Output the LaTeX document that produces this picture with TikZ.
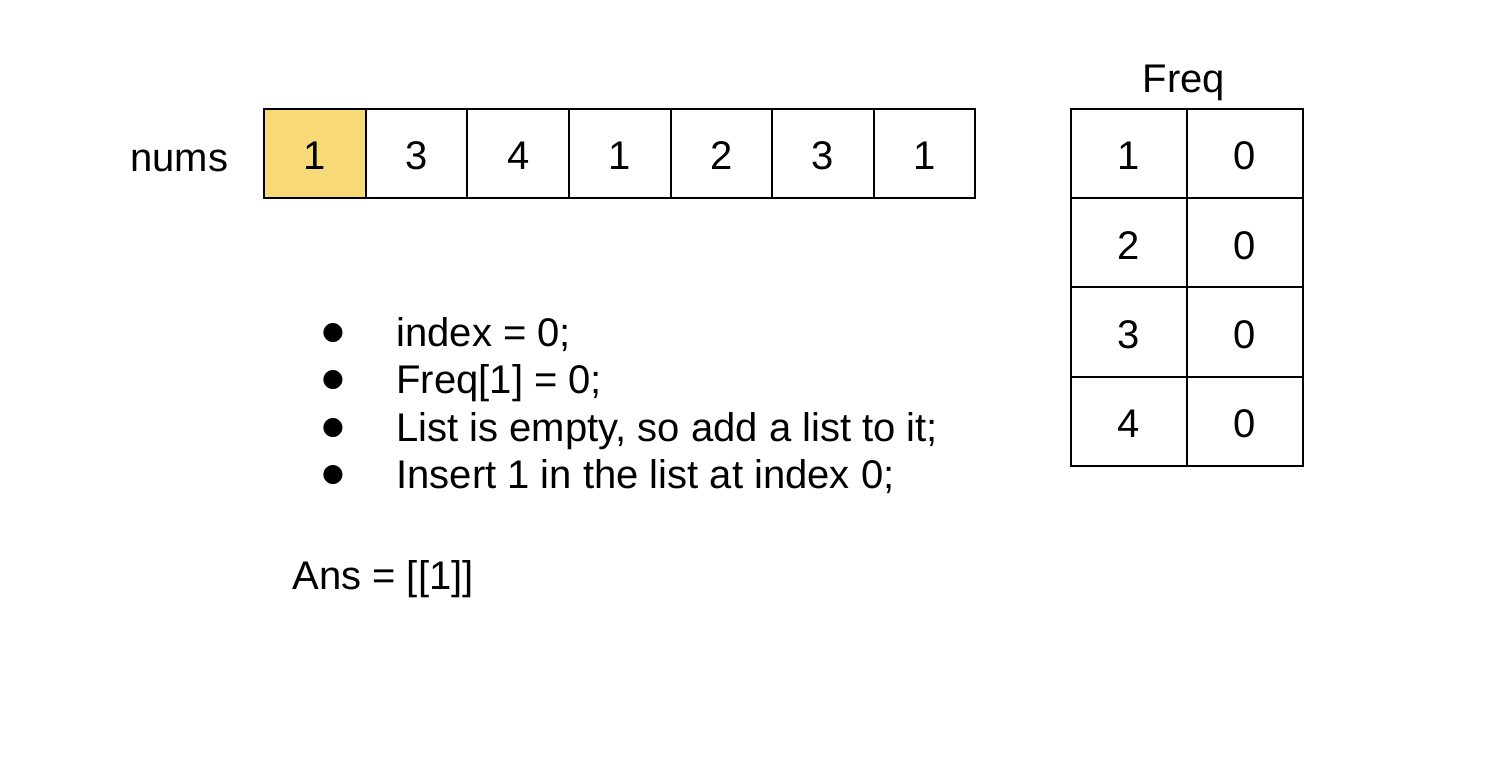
\documentclass[tikz,border=0pt]{standalone}
\usepackage{fontspec}
\setmainfont{Liberation Sans}
\newfontfamily\symfont{DejaVu Sans}
\usetikzlibrary{positioning}
\definecolor{hl}{HTML}{F7D978}
\tikzset{
  cell/.style = {draw=black, line width=1pt, rectangle, minimum width=50.8pt, minimum height=44.6pt, inner sep=0pt, outer sep=0pt, text height=16.3pt, text depth=0pt, font=\fontsize{20}{24}\selectfont},
  fcell/.style = {cell, minimum width=58pt},
  lbl/.style = {inner sep=0pt, anchor=base west, font=\fontsize{20}{24}\selectfont},
  dot/.style = {inner sep=0pt, anchor=center, font=\symfont\fontsize{12.5}{13}\selectfont}
}
\begin{document}
\begin{tikzpicture}[x=0.5pt, y=-0.5pt]
            \useasboundingbox (0,0) rectangle (1504,762);
            % nums array
            \node[lbl] (nums) at (130,171) {nums};
            \node[cell, fill=hl] (c1) at (315,153.5) {1};
            \node[cell, right=0pt of c1] (c2) {3};
            \node[cell, right=0pt of c2] (c3) {4};
            \node[cell, right=0pt of c3] (c4) {1};
            \node[cell, right=0pt of c4] (c5) {2};
            \node[cell, right=0pt of c5] (c6) {3};
            \node[cell, right=0pt of c6] (c7) {1};
            % Freq table
            \node[fcell] (k1) at (1129,153.5) {1};
            \node[fcell, right=0pt of k1] (v1) {0};
            \node[fcell, below=0pt of k1] (k2) {2};
            \node[fcell, right=0pt of k2] (v2) {0};
            \node[fcell, below=0pt of k2] (k3) {3};
            \node[fcell, right=0pt of k3] (v3) {0};
            \node[fcell, below=0pt of k3] (k4) {4};
            \node[fcell, right=0pt of k4] (v4) {0};
            \node[lbl, anchor=base] (freq) at (1184,92) {Freq};
            % steps
            \node[dot] (d1) at (333,333) {●};
            \node[dot] (d2) at (333,380.5) {●};
            \node[dot] (d3) at (333,428) {●};
            \node[dot] (d4) at (333,475.5) {●};
            \node[lbl] (s1) at (396,346) {index = 0;};
            \node[lbl] (s2) at (396,393.5) {Freq[1] = 0;};
            \node[lbl] (s3) at (396,441) {List is empty, so add a list to it;};
            \node[lbl] (s4) at (396,488.5) {Insert 1 in the list at index 0;};
            \node[lbl] (ans) at (292,589) {Ans = [[1]]};
        \end{tikzpicture}
\end{document}
